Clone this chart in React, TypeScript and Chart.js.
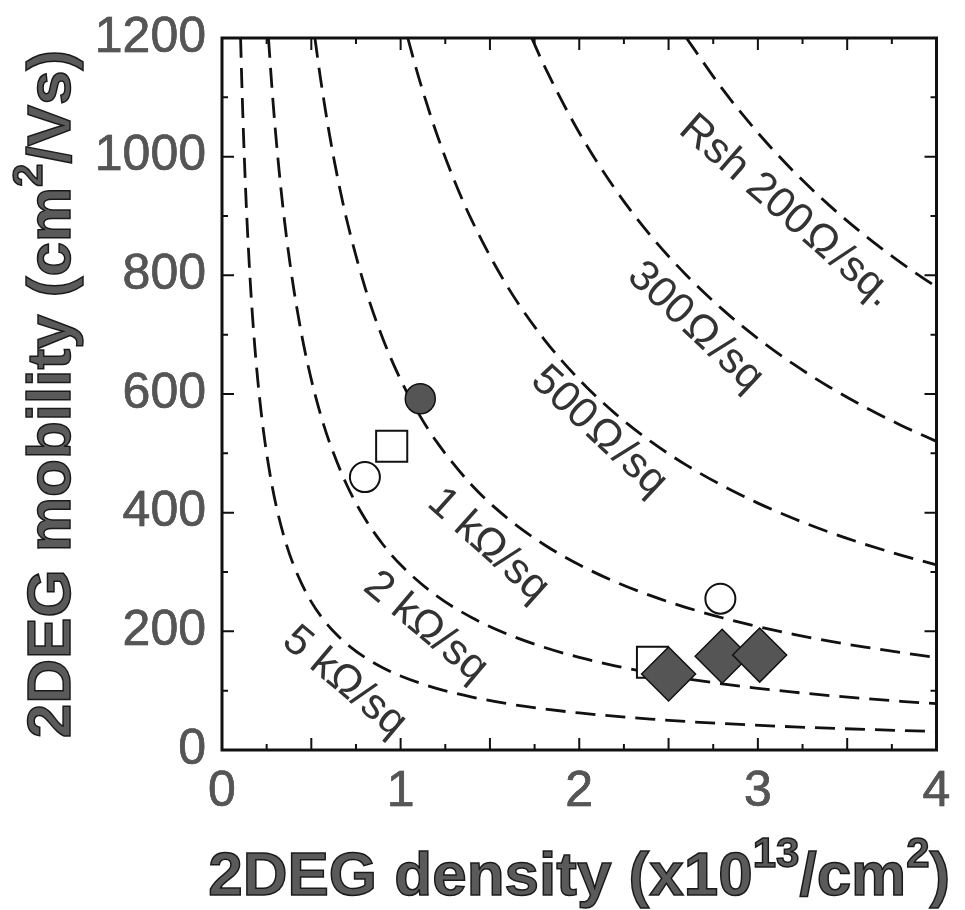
import React, { useEffect, useRef } from 'react';
import { Chart, registerables } from 'chart.js';
Chart.register(...registerables);

// Axis ticks
const xTickValues = [0, 1, 2, 3, 4];
const yTickValues = [0, 200, 400, 600, 800, 1000, 1200];
const xMajorMarks = [0.5, 1, 1.5, 2, 2.5, 3, 3.5];
const xMinorMarks = [0.25, 0.75, 1.25, 1.75, 2.25, 2.75, 3.25, 3.75];
const yMajorMarks = [200, 400, 600, 800, 1000];
const yMinorMarks = [100, 300, 500, 700, 900, 1100];

// Constant sheet-resistance curves (density x1e13 /cm2, mobility cm2/Vs)
const rsh200N = [2.6, 2.8, 3.0, 3.2, 3.4, 3.6, 3.8, 4.0];
const rsh200Mu = [1200, 1114.6, 1040.3, 975.2, 917.9, 866.9, 821.3, 780.2];
const rsh300N = [1.734, 1.8, 2.0, 2.2, 2.4, 2.6, 2.8, 3.0, 3.2, 3.4, 3.6, 3.8, 4.0];
const rsh300Mu = [1200, 1155.8, 1040.3, 945.7, 866.9, 800.2, 743.0, 693.5, 650.2, 611.9, 577.9, 547.5, 520.1];
const rsh500N = [1.04, 1.1, 1.2, 1.3, 1.4, 1.6, 1.8, 2.0, 2.2, 2.4, 2.6, 2.8, 3.0, 3.2, 3.4, 3.6, 3.8, 4.0];
const rsh500Mu = [1200, 1134.8, 1040.3, 960.2, 891.6, 780.2, 693.5, 624.2, 567.4, 520.1, 480.1, 445.8, 416.1, 390.1, 367.1, 346.8, 328.5, 312.1];
const rsh1kN = [0.52, 0.55, 0.6, 0.65, 0.7, 0.8, 0.9, 1.0, 1.1, 1.2, 1.4, 1.6, 1.8, 2.0, 2.2, 2.4, 2.6, 2.8, 3.0, 3.2, 3.4, 3.6, 3.8, 4.0];
const rsh1kMu = [1200.3, 1134.8, 1040.3, 960.2, 891.6, 780.2, 693.5, 624.2, 567.4, 520.1, 445.8, 390.1, 346.8, 312.1, 283.7, 260.1, 240.1, 222.9, 208.1, 195.0, 183.6, 173.4, 164.3, 156.0];
const rsh2kN = [0.26, 0.28, 0.3, 0.33, 0.36, 0.4, 0.45, 0.5, 0.55, 0.6, 0.7, 0.8, 0.9, 1.0, 1.2, 1.4, 1.6, 1.8, 2.0, 2.2, 2.4, 2.6, 2.8, 3.0, 3.2, 3.4, 3.6, 3.8, 4.0];
const rsh2kMu = [1200.3, 1114.6, 1040.3, 945.7, 866.9, 780.2, 693.5, 624.2, 567.4, 520.1, 445.8, 390.1, 346.8, 312.1, 260.1, 222.9, 195.0, 173.4, 156.0, 141.9, 130.0, 120.0, 111.5, 104.0, 97.5, 91.8, 86.7, 82.1, 78.0];
const rsh5kN = [0.104, 0.11, 0.12, 0.13, 0.14, 0.16, 0.18, 0.2, 0.22, 0.24, 0.28, 0.32, 0.36, 0.4, 0.48, 0.56, 0.64, 0.72, 0.8, 0.9, 1.0, 1.2, 1.4, 1.6, 1.8, 2.0, 2.4, 2.8, 3.2, 3.6, 4.0];
const rsh5kMu = [1200.3, 1134.8, 1040.3, 960.2, 891.6, 780.2, 693.5, 624.2, 567.4, 520.1, 445.8, 390.1, 346.8, 312.1, 260.1, 222.9, 195.0, 173.4, 156.0, 138.7, 124.8, 104.0, 89.2, 78.0, 69.4, 62.4, 52.0, 44.6, 39.0, 34.7, 31.2];

// Measured samples
const diamondN = [2.5, 2.8, 3.01];
const diamondMu = [128, 158, 160];
const filledCircleN = [1.11];
const filledCircleMu = [592];
const openCircleN = [0.8, 2.79];
const openCircleMu = [460, 255];
const openSquareN = [0.95, 2.41];
const openSquareMu = [512, 148];

// Curve labels
const curveLabelText = ['Rsh 200\u200A\u03A9\u200A/sq.', '300\u200A\u03A9\u200A/sq', '500\u200A\u03A9\u200A/sq', '1 k\u03A9/sq', '2 k\u03A9/sq', '5 k\u03A9/sq'];
const curveLabelN = [3.16, 2.65, 2.11, 1.49, 1.14, 0.685];
const curveLabelMu = [908, 713, 537, 345, 207, 115];
const curveLabelAngle = [41, 43, 43, 42, 40, 40];

const FONT = "'Liberation Sans', Arial, Helvetica, sans-serif";

const pts = (xs: number[], ys: number[]) => xs.map((x, i) => ({ x, y: ys[i] }));

const curveDs = (xs: number[], ys: number[]) => ({
  type: 'line' as const,
  data: pts(xs, ys),
  showLine: true,
  borderColor: '#111',
  borderWidth: 2.8,
  borderDash: [20, 10],
  pointRadius: 0,
  fill: false,
  cubicInterpolationMode: 'monotone' as const,
});

const framePlugin = {
  id: 'frameTicks',
  afterDraw(chart: any) {
    const ctx = chart.ctx;
    const ca = chart.chartArea;
    const xs = chart.scales.x;
    const ys = chart.scales.y;
    ctx.save();
    ctx.strokeStyle = '#111';
    ctx.lineWidth = 2;
    const markX = (vals: number[], len: number) => {
      vals.forEach((v) => {
        const px = xs.getPixelForValue(v);
        ctx.beginPath();
        ctx.moveTo(px, ca.bottom);
        ctx.lineTo(px, ca.bottom - len);
        ctx.moveTo(px, ca.top);
        ctx.lineTo(px, ca.top + len);
        ctx.stroke();
      });
    };
    const markY = (vals: number[], len: number) => {
      vals.forEach((v) => {
        const py = ys.getPixelForValue(v);
        ctx.beginPath();
        ctx.moveTo(ca.left, py);
        ctx.lineTo(ca.left + len, py);
        ctx.moveTo(ca.right, py);
        ctx.lineTo(ca.right - len, py);
        ctx.stroke();
      });
    };
    markX(xMajorMarks, 12);
    markX(xMinorMarks, 6);
    markY(yMajorMarks, 12);
    markY(yMinorMarks, 6);
    ctx.lineWidth = 3;
    ctx.strokeRect(ca.left, ca.top, ca.right - ca.left, ca.bottom - ca.top);
    ctx.restore();
  },
};

const labelPlugin = {
  id: 'curveLabels',
  afterDatasetsDraw(chart: any) {
    const ctx = chart.ctx;
    const xs = chart.scales.x;
    const ys = chart.scales.y;
    ctx.save();
    ctx.font = `43px ${FONT}`;
    ctx.fillStyle = '#333';
    ctx.textAlign = 'center';
    ctx.textBaseline = 'middle';
    curveLabelText.forEach((t, i) => {
      const px = xs.getPixelForValue(curveLabelN[i]);
      const py = ys.getPixelForValue(curveLabelMu[i]);
      ctx.save();
      ctx.translate(px, py);
      ctx.rotate((curveLabelAngle[i] * Math.PI) / 180);
      ctx.fillText(t, 0, 0);
      ctx.restore();
    });
    ctx.restore();
  },
};

type Piece = { t: string; sup?: boolean };
const xTitle: Piece[] = [{ t: '2DEG density (x10' }, { t: '13', sup: true }, { t: '/cm' }, { t: '2', sup: true }, { t: ')' }];
const yTitle: Piece[] = [{ t: '2DEG mobility (cm' }, { t: '2', sup: true }, { t: '/Vs)' }];

const titlePlugin = {
  id: 'axisTitles',
  afterDraw(chart: any) {
    const ctx = chart.ctx;
    const ca = chart.chartArea;
    const fontFor = (p: Piece) => (p.sup ? `bold 42px ${FONT}` : `bold 62px ${FONT}`);
    const draw = (pieces: Piece[], cx: number, baseY: number) => {
      let total = 0;
      const widths = pieces.map((p) => {
        ctx.font = fontFor(p);
        const w = ctx.measureText(p.t).width;
        total += w;
        return w;
      });
      let x = cx - total / 2;
      pieces.forEach((p, i) => {
        ctx.font = fontFor(p);
        const y = p.sup ? baseY - 28 : baseY;
        ctx.fillText(p.t, x, y);
        ctx.strokeText(p.t, x, y);
        x += widths[i];
      });
    };
    ctx.save();
    ctx.fillStyle = '#5a5a5a';
    ctx.strokeStyle = '#1a1a1a';
    ctx.lineWidth = 1.5;
    ctx.textAlign = 'left';
    ctx.textBaseline = 'alphabetic';
    draw(xTitle, (ca.left + ca.right) / 2, 895);
    ctx.translate(70, (ca.top + ca.bottom) / 2);
    ctx.rotate(-Math.PI / 2);
    draw(yTitle, 0, 0);
    ctx.restore();
  },
};

export default function App() {
  const ref = useRef<HTMLCanvasElement | null>(null);
  useEffect(() => {
    document.body.style.margin = '0';
    const canvas = ref.current;
    if (!canvas) return;
    const tickFont = { family: FONT, size: 50 };
    const chart = new Chart(canvas, {
      type: 'scatter',
      data: {
        datasets: [
          {
            data: pts(diamondN, diamondMu),
            pointStyle: 'rectRot',
            pointRadius: 27,
            backgroundColor: '#555',
            borderColor: '#111',
            borderWidth: 1.5,
          },
          {
            data: pts(filledCircleN, filledCircleMu),
            pointStyle: 'circle',
            pointRadius: 15,
            backgroundColor: '#555',
            borderColor: '#111',
            borderWidth: 1.5,
          },
          {
            data: pts(openCircleN, openCircleMu),
            pointStyle: 'circle',
            pointRadius: 15,
            backgroundColor: '#fff',
            borderColor: '#111',
            borderWidth: 2,
          },
          {
            data: pts(openSquareN, openSquareMu),
            pointStyle: 'rect',
            pointRadius: 22,
            backgroundColor: '#fff',
            borderColor: '#111',
            borderWidth: 2,
          },
          curveDs(rsh200N, rsh200Mu),
          curveDs(rsh300N, rsh300Mu),
          curveDs(rsh500N, rsh500Mu),
          curveDs(rsh1kN, rsh1kMu),
          curveDs(rsh2kN, rsh2kMu),
          curveDs(rsh5kN, rsh5kMu),
        ] as any,
      },
      options: {
        animation: false,
        responsive: false,
        maintainAspectRatio: false,
        layout: { padding: { top: 30, right: 25, left: 0, bottom: 0 } },
        plugins: { legend: { display: false }, tooltip: { enabled: false } },
        scales: {
          x: {
            type: 'linear',
            min: 0,
            max: 4,
            grid: { display: false },
            border: { display: false },
            afterFit: (s: any) => {
              s.height = 160;
            },
            afterBuildTicks: (s: any) => {
              s.ticks = xTickValues.map((v) => ({ value: v }));
            },
            ticks: {
              font: tickFont,
              color: '#555',
              textStrokeColor: '#222',
              textStrokeWidth: 0.6,
              padding: 4,
              maxRotation: 0,
              callback: (v: any) => String(v),
            },
          },
          y: {
            type: 'linear',
            min: 0,
            max: 1200,
            grid: { display: false },
            border: { display: false },
            afterFit: (s: any) => {
              s.width = 222;
            },
            afterBuildTicks: (s: any) => {
              s.ticks = yTickValues.map((v) => ({ value: v }));
            },
            ticks: {
              font: tickFont,
              color: '#555',
              textStrokeColor: '#222',
              textStrokeWidth: 0.6,
              padding: 8,
              callback: (v: any) => String(v),
            },
          },
        },
      },
      plugins: [labelPlugin, framePlugin, titlePlugin],
    } as any);
    return () => chart.destroy();
  }, []);
  return <canvas ref={ref} width={965} height={910} style={{ display: 'block' }} />;
}
